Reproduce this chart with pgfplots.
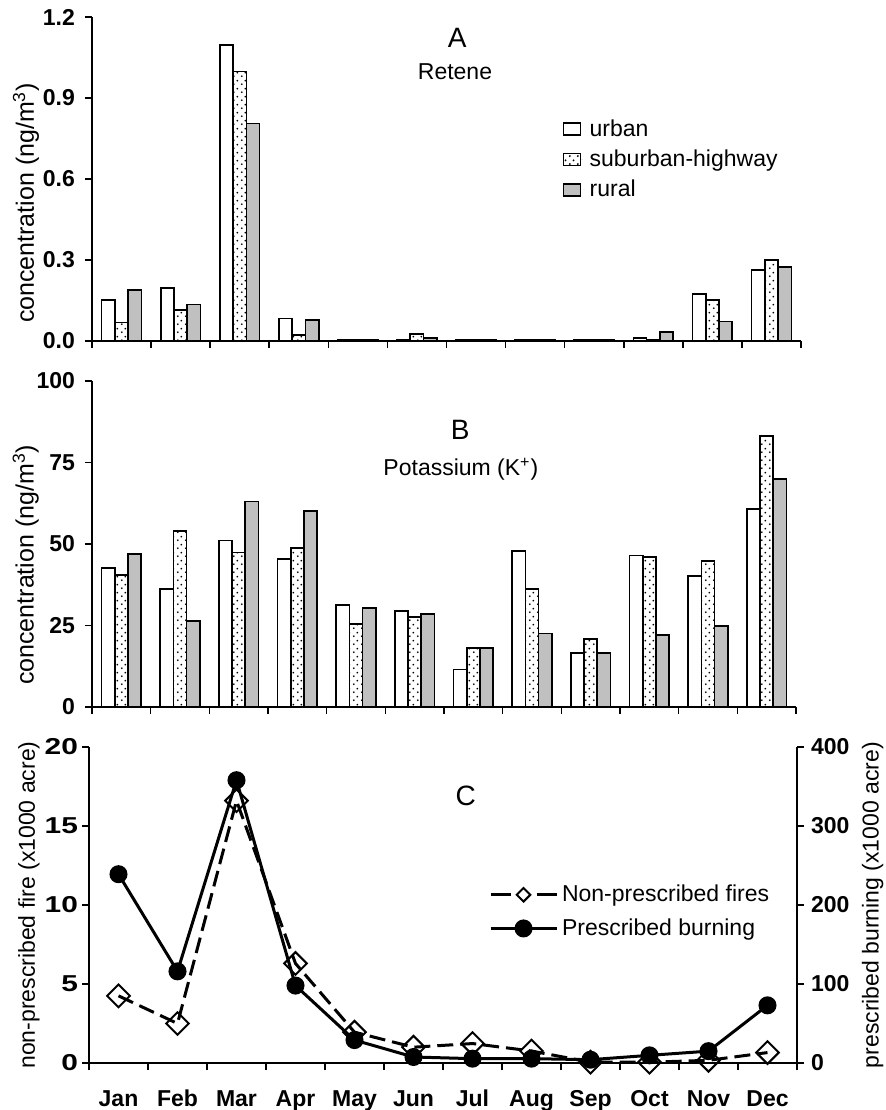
\documentclass[border=0pt]{standalone}
\usepackage{fontspec}
\setmainfont{Liberation Sans}
\newfontfamily\tickfontw[FakeStretch=1.3]{Liberation Sans}
\usepackage{pgfplots}
\usepackage{pgfplotstable}
\pgfplotsset{compat=1.18}
\usetikzlibrary{patterns,patterns.meta}

\definecolor{rur}{RGB}{192,192,192}

\pgfdeclarepattern{
  name=sdots, type=uncolored,
  bottom left={\pgfpoint{0pt}{0pt}},
  top right={\pgfpoint{4pt}{4pt}},
  tile size={\pgfpoint{4pt}{4pt}},
  code={
    \pgfpathcircle{\pgfpoint{1pt}{1pt}}{0.55pt}
    \pgfpathcircle{\pgfpoint{3pt}{3pt}}{0.55pt}
    \pgfusepath{fill}
  }
}

\pgfplotstableread{
m urban sub rural
0 0.151 0.068 0.189
1 0.195 0.116 0.135
2 1.095 0.998 0.805
3 0.083 0.023 0.078
4 0.005 0.005 0.005
5 0.005 0.025 0.011
6 0.005 0.005 0.005
7 0.005 0.005 0.005
8 0.005 0.005 0.005
9 0.012 0.006 0.033
10 0.173 0.151 0.072
11 0.262 0.301 0.273
}\retene

\pgfplotstableread{
m urban sub rural
0 42.7 40.4 46.9
1 36.3 53.9 26.3
2 51.1 47.4 63.0
3 45.5 48.8 60.2
4 31.3 25.4 30.4
5 29.4 27.6 28.5
6 11.5 18.0 18.0
7 47.9 36.3 22.5
8 16.6 20.8 16.6
9 46.5 46.0 22.1
10 40.1 44.7 24.8
11 60.7 83.1 69.9
}\potassium

\pgfplotstableread{
m nonpres pres
0 4.25 239
1 2.5 116
2 16.6 358
3 6.3 98
4 1.95 29
5 1.0 7.6
6 1.23 5.5
7 0.76 5.5
8 0.05 4.2
9 0.05 9.7
10 0.17 15
11 0.66 73
}\fires

\pgfplotsset{
  /pgf/number format/assume math mode=true,
  panel/.style={
    scale only axis,
    xmin=-0.5, xmax=11.5,
    axis x line*=bottom, axis y line*=left,
    tick align=outside,
    major tick length=3.5pt,
    axis line style={line width=0.8pt},
    every tick/.style={black, line width=0.8pt},
    tick label style={font=\bfseries\fontsize{11.5}{13}\selectfont},
    yticklabel style={xshift=-1.5pt},
    label style={font=\fontsize{12.5}{14}\selectfont},
    xtick={-0.5,0.5,...,11.5},
    xticklabels={},
  },
  barU/.style={ybar, bar width=0.225, bar shift=-0.225, draw=black, fill=white, line width=0.85pt},
  barS/.style={ybar, bar width=0.225, bar shift=0, draw=black, pattern=sdots, pattern color=black, line width=0.85pt},
  barR/.style={ybar, bar width=0.225, bar shift=0.225, draw=black, fill=rur, line width=0.85pt},
}

\begin{document}
\begin{tikzpicture}
\path[use as bounding box] (0,0) rectangle (442.5pt,555pt);

% ---------- Panel A ----------
\begin{axis}[panel,
  at={(46pt,384.5pt)}, anchor=south west,
  width=354.5pt, height=162pt,
  ymin=0, ymax=1.2, ytick={0,0.3,0.6,0.9,1.2},
  yticklabel style={/pgf/number format/.cd, fixed, fixed zerofill, precision=1},
  ylabel={concentration (ng/m\textsuperscript{3})},
  ylabel style={at={(axis description cs:-0.093,0.426)}, anchor=center},
  legend style={at={(axis description cs:0.655,0.71)}, anchor=north west,
    draw=none, fill=none, font=\fontsize{11.5}{13}\selectfont, row sep=1.3pt},
  legend cell align=left,
  legend image code/.code={\draw[#1] (0pt,-3pt) rectangle (8.5pt,3pt); \path[draw=none] (8.5pt,0pt) -- (11pt,0pt);},
]
\addplot[barU] table[x=m,y=urban]{\retene};
\addplot[barS] table[x=m,y=sub]{\retene};
\addplot[barR] table[x=m,y=rural]{\retene};
\legend{urban, suburban-highway, rural}
\node[font=\fontsize{14}{16}\selectfont, anchor=base] at (axis description cs:0.515,0.907) {A};
\node[font=\fontsize{11.5}{13}\selectfont, anchor=base] at (axis description cs:0.512,0.806) {Retene};
\end{axis}

% ---------- Panel B ----------
\begin{axis}[panel,
  at={(46pt,201.5pt)}, anchor=south west,
  width=352pt, height=163pt,
  ymin=0, ymax=100, ytick={0,25,50,75,100},
  ylabel={concentration (ng/m\textsuperscript{3})},
  ylabel style={at={(axis description cs:-0.094,0.436)}, anchor=center},
]
\addplot[barU] table[x=m,y=urban]{\potassium};
\addplot[barS] table[x=m,y=sub]{\potassium};
\addplot[barR] table[x=m,y=rural]{\potassium};
\node[font=\fontsize{14}{16}\selectfont, anchor=base] at (axis description cs:0.523,0.822) {B};
\node[font=\fontsize{11.5}{13}\selectfont, anchor=base] at (axis description cs:0.524,0.709) {Potassium (K\textsuperscript{+})};
\end{axis}

% ---------- Panel C (right axis: prescribed burning) ----------
\begin{axis}[
  scale only axis,
  at={(44.5pt,23.5pt)}, anchor=south west,
  width=354pt, height=158pt,
  xmin=-0.5, xmax=11.5,
  ymin=0, ymax=400, ytick={0,100,200,300,400},
  axis y line*=right, axis x line=none,
  tick align=outside, major tick length=3.5pt,
  axis line style={line width=0.8pt},
  every tick/.style={black, line width=0.8pt},
  tick label style={font=\bfseries\fontsize{11.5}{13}\selectfont},
  label style={font=\fontsize{11.5}{13}\selectfont},
  ylabel={prescribed burning (x1000 acre)},
  ylabel style={at={(axis description cs:1.107,0.5)}, anchor=center},
  clip=false,
]
\addplot[black, line width=1.5pt, mark=*, mark size=3.75pt, mark options={fill=black, solid}] table[x=m,y=pres]{\fires};
\end{axis}

% ---------- Panel C (left axis: non-prescribed fires) ----------
\begin{axis}[panel,
  at={(44.5pt,23.5pt)}, anchor=south west,
  width=354pt, height=158pt,
  ymin=0, ymax=20, ytick={0,5,10,15,20},
  yticklabel style={font=\tickfontw\bfseries\fontsize{11.5}{13}\selectfont, xshift=3pt},
  xticklabels={Jan,Feb,Mar,Apr,May,Jun,Jul,Aug,Sep,Oct,Nov,Dec},
  xticklabel style={xshift=14.75pt, yshift=-6pt, text height=8.5pt, text depth=2.5pt},
  label style={font=\fontsize{11.5}{13}\selectfont},
  ylabel={non-prescribed fire (x1000 acre)},
  ylabel style={at={(axis description cs:-0.085,0.5)}, anchor=center},
  clip=false,
  legend style={at={(axis description cs:0.556,0.59)}, anchor=north west,
    draw=none, fill=none, font=\fontsize{11.5}{13}\selectfont, row sep=3pt},
  legend cell align=left,
  legend image code/.code={\draw[#1, mark repeat=2, mark phase=2] plot coordinates {(0pt,0pt) (16.5pt,0pt) (33pt,0pt)};},
]
\addplot[forget plot, black, line width=1.5pt, dash pattern=on 8pt off 3.5pt,
  mark=square, mark size=4pt, mark options={rotate=45, solid, fill=white, line width=1pt}]
  table[x=m,y=nonpres]{\fires};
\addlegendimage{black, line width=1.5pt, dash pattern=on 10pt off 13pt, mark=square, mark size=2.4pt, mark options={rotate=45, solid, fill=white, line width=1pt}}
\addlegendentry{Non-prescribed fires}
\addlegendimage{black, line width=1.5pt, mark=*, mark size=3.75pt, mark options={fill=black, solid}}
\addlegendentry{Prescribed burning}
\node[font=\fontsize{14}{16}\selectfont, anchor=base] at (axis description cs:0.532,0.816) {C};
\end{axis}
\end{tikzpicture}
\end{document}
